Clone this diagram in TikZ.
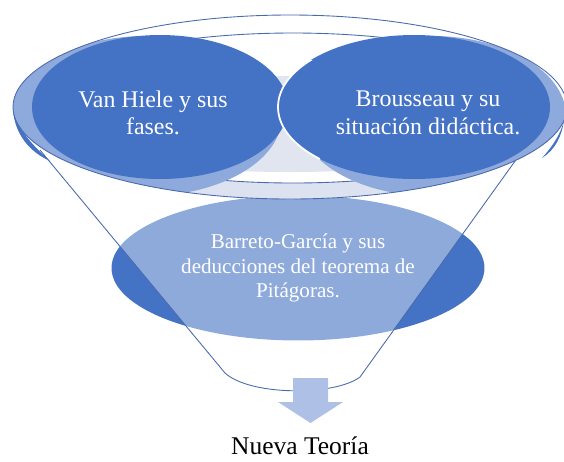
\documentclass[tikz,border=0pt]{standalone}
\usepackage{fontspec}
\setmainfont{Liberation Serif}
\usetikzlibrary{shapes.geometric,positioning}
\definecolor{darkblue}{HTML}{4472C4}
\definecolor{haloblue}{HTML}{8EA9DB}
\definecolor{rimgray}{HTML}{DCE2EF}
\definecolor{innergray}{HTML}{E1E5EF}
\definecolor{arrowblue}{HTML}{AFC0E6}
\definecolor{rimline}{HTML}{4A6AAE}

\begin{document}
\begin{tikzpicture}[x=0.02cm,y=-0.02cm,
  oval/.style={ellipse,inner sep=0pt,text=white,align=center,
               font=\fontsize{12}{13.8}\selectfont},
  topoval/.style={ellipse,inner sep=0pt,fill=darkblue,
                  minimum width=5.12cm,minimum height=2.88cm},
  ovaltext/.style={text=white,align=center,font=\fontsize{13.6}{15.6}\selectfont},
  rim/.style={draw=rimline,line width=0.5pt}]
 \useasboundingbox (0,0) rectangle (564,461);
 % bottom oval, lightened later by the funnel
 \node[oval,fill=darkblue,minimum width=7.46cm,minimum height=2.9cm] (bg) at (298,268)
      {Barreto-García y sus\\deducciones del teorema de\\Pitágoras.};
 % funnel body
 \fill[white,opacity=0.4] (40,150) -- (225,373)
      .. controls (250,396) and (335,396) .. (360,377) -- (523,150) -- cycle;
 \draw[rim] (40,150) -- (225,373)
      .. controls (250,396) and (335,396) .. (360,377) -- (523,150);
 % rim of the funnel
 \fill[white] (290,107) ellipse [x radius=277,y radius=92];
 \begin{scope}
  \clip (0,140) rectangle (564,220);
  \fill[rimgray,even odd rule] (290,107) ellipse [x radius=277,y radius=92]
       (293,108) ellipse [x radius=262,y radius=75];
 \end{scope}
 \begin{scope}
  \clip (293,108) ellipse [x radius=262,y radius=75];
  \fill[innergray] (290,124) ellipse [x radius=250,y radius=48];
 \end{scope}
 \draw[rim] (293,108) ellipse [x radius=262,y radius=75];
 % dark edges outside the rim
 \fill[darkblue] (13,110) .. controls (15,135) and (30,152) .. (50,161)
      .. controls (38,150) and (18,132) .. cycle;
 \fill[darkblue] (564,120) .. controls (562,136) and (555,150) .. (542,158)
      .. controls (552,147) and (561,134) .. cycle;
 % top ovals with their light halos
 \begin{scope}
  \clip (290,107) ellipse [x radius=277,y radius=92];
  \fill[haloblue] (146,116) ellipse [x radius=136,y radius=80];
  \fill[haloblue] (432,116) ellipse [x radius=134,y radius=80];
  \node[topoval] (vh) at (160,107) {};
  \node[topoval,minimum width=5.44cm] (br) at (414,107) {};
 \end{scope}
 % white seam between the two top ovals
 \begin{scope}
  \clip (250,60) rectangle (320,160);
  \draw[white,line width=1pt] (414,107) ellipse [x radius=136,y radius=72];
 \end{scope}
 \draw[rim] (290,107) ellipse [x radius=277,y radius=92];
 \node[ovaltext] (vhtext) at ([xshift=-0.14cm,yshift=-0.12cm]vh.center)
      {Van Hiele y sus\\fases.};
 \node[ovaltext] (brtext) at ([xshift=0.28cm,yshift=-0.12cm]br.center)
      {Brousseau y su\\situación didáctica.};
 % arrow and result
 \fill[arrowblue] (293,378) -- (328,378) -- (328,402) -- (343,402) -- (310.5,423)
      -- (278,402) -- (293,402) -- cycle;
 \node[font=\fontsize{14.5}{16}\selectfont] (nt) at (300,446) {Nueva Teoría};
\end{tikzpicture}
\end{document}
